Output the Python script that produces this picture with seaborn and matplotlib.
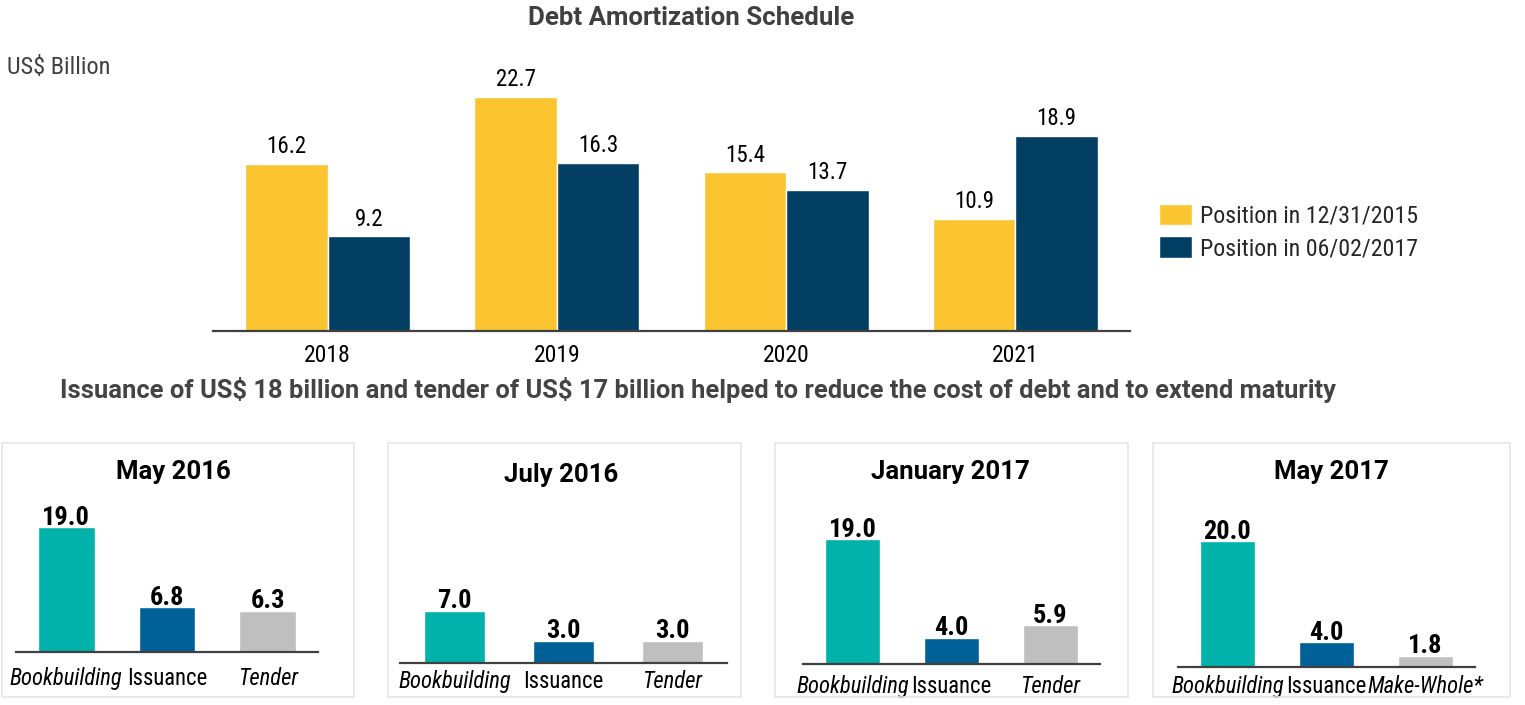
import numpy as np
import pandas as pd
import matplotlib
matplotlib.use("Agg")
import matplotlib.pyplot as plt
from matplotlib.patches import Rectangle
import seaborn as sns

# ---- Data
years = ["2018", "2019", "2020", "2021"]
pos_2015 = [16.2, 22.7, 15.4, 10.9]
pos_2017 = [9.2, 16.3, 13.7, 18.9]
series_names = ["Position in 12/31/2015", "Position in 06/02/2017"]

panel_titles = ["May 2016", "July 2016", "January 2017", "May 2017"]
panel_cats = [
    ["Bookbuilding", "Issuance", "Tender"],
    ["Bookbuilding", "Issuance", "Tender"],
    ["Bookbuilding", "Issuance", "Tender"],
    ["Bookbuilding", "Issuance", "Make-Whole*"],
]
panel_vals = [
    [19.0, 6.8, 6.3],
    [7.0, 3.0, 3.0],
    [19.0, 4.0, 5.9],
    [20.0, 4.0, 1.8],
]

YELLOW = "#FBC531"
NAVY = "#033F63"
TEAL = "#00B2A9"
BLUE = "#006098"
GRAY = "#BFBFBF"
INK = "#404040"

W, H = 1525, 705

sns.set_theme(style="white")
plt.rcParams["font.family"] = ["Roboto Condensed", "DejaVu Sans"]
HEAD = ["Roboto", "DejaVu Sans"]  # wider face for the bold headings


def fx(px):
    return px / W


def fy(px):
    return 1 - px / H


fig = plt.figure(figsize=(W / 100, H / 100), dpi=100)

# ---- Top chart: debt amortization schedule
top = pd.DataFrame({
    "year": years * 2,
    "value": pos_2015 + pos_2017,
    "series": [series_names[0]] * 4 + [series_names[1]] * 4,
})
ax = fig.add_axes([fx(213), fy(331), fx(1130 - 213), (331 - 70) / H])
sns.barplot(data=top, x="year", y="value", hue="series",
            palette=[YELLOW, NAVY], saturation=1, width=0.72, gap=0,
            ax=ax)
ax.set_xlim(-0.5, 3.5)
ax.set_ylim(0, (331 - 70) / 10.32)
for cont in ax.containers:
    ax.bar_label(cont, fmt="%.1f", padding=4, fontsize=16.5, color="black")
sns.despine(ax=ax, left=True)
ax.spines["bottom"].set_color(INK)
ax.spines["bottom"].set_linewidth(1.6)
ax.set_yticks([])
ax.set_xlabel("")
ax.set_ylabel("")
ax.tick_params(axis="x", length=0, labelsize=17, pad=9.5, labelcolor="black")
ax.legend(loc="center left",
          bbox_to_anchor=((1159 - 213) / (1130 - 213), (331 - 232) / (331 - 70)),
          frameon=False, fontsize=17.2, handlelength=1.4, handleheight=1.02,
          labelspacing=0.36, handletextpad=0.3, borderaxespad=0, borderpad=0)

fig.text(fx(691), fy(18), "Debt Amortization Schedule", ha="center", va="center",
         fontsize=18.6, fontweight="bold", color=INK, family=HEAD)
fig.text(fx(7), fy(68), "US$ Billion", ha="left", va="center",
         fontsize=17.5, color=INK, parse_math=False)
fig.text(fx(60), fy(390),
         "Issuance of US$ 18 billion and tender of US$ 17 billion helped to "
         "reduce the cost of debt and to extend maturity",
         ha="left", va="center", fontsize=18.4, fontweight="bold", color="#444444",
         family=HEAD, parse_math=False)

# ---- Bottom panels: the four transactions
boxes = [(2, 354), (388, 741), (775, 1128), (1153, 1510)]
axes_px = [(16, 318, 652, 6.58), (400, 727, 663, 7.5),
           (803, 1100, 664, 6.58), (1178, 1475, 667, 6.3)]
label_pad = [11, 5, 7.7, 5.6]
title_px = [(173, 472), (561, 475), (950, 472), (1331, 472)]
italic_cats = {"Bookbuilding", "Tender", "Make-Whole*"}

for i in range(4):
    bx0, bx1 = boxes[i]
    fig.patches.append(Rectangle((fx(bx0), fy(697)), fx(bx1 - bx0), (697 - 443) / H,
                                 transform=fig.transFigure, fill=False,
                                 edgecolor="#E6E6E6", linewidth=1.2))
    l, r, base, scale = axes_px[i]
    pax = fig.add_axes([fx(l), fy(base), fx(r - l), (base - 500) / H])
    pdf = pd.DataFrame({"cat": panel_cats[i], "value": panel_vals[i]})
    sns.barplot(data=pdf, x="cat", y="value", hue="cat",
                palette=[TEAL, BLUE, GRAY], saturation=1, width=0.56,
                legend=False, ax=pax)
    pax.set_xlim(-0.5, 2.5)
    pax.set_ylim(0, (base - 500) / scale)
    for cont in pax.containers:
        pax.bar_label(cont, fmt="%.1f", padding=-2, fontsize=19,
                      fontweight="bold", color="black")
    sns.despine(ax=pax, left=True)
    pax.spines["bottom"].set_color(INK)
    pax.spines["bottom"].set_linewidth(1.6)
    pax.set_yticks([])
    pax.set_xlabel("")
    pax.set_ylabel("")
    pax.tick_params(axis="x", length=0, labelsize=16.3, pad=label_pad[i],
                    labelcolor="black")
    for t in pax.get_xticklabels():
        if t.get_text() in italic_cats:
            t.set_fontstyle("italic")
    tx, ty = title_px[i]
    fig.text(fx(tx), fy(ty), panel_titles[i], ha="center", va="center",
             fontsize=18.5, fontweight="bold", color="black", family=HEAD)

fig.savefig("out.png", dpi=100)
